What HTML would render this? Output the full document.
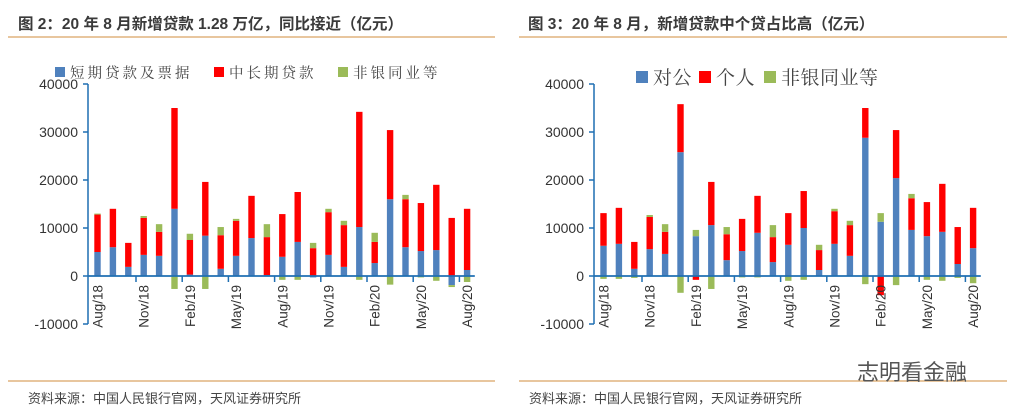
<!DOCTYPE html>
<html><head><meta charset="utf-8"><style>
body{margin:0;width:1013px;height:416px;background:#fff;overflow:hidden;font-family:"Liberation Sans","Noto Sans CJK SC",sans-serif;}
svg{position:absolute;left:0;top:0}
</style></head><body>
<svg id="s" width="1013" height="416">
<text x="18" y="29" font-size="15.5" font-weight="bold" fill="#3a3a3a">图 2：20 年 8 月新增贷款 1.28 万亿，同比接近（亿元）</text>
<text x="528" y="29" font-size="15.5" font-weight="bold" fill="#3a3a3a">图 3：20 年 8 月，新增贷款中个贷占比高（亿元）</text>
<line x1="8" y1="37" x2="495" y2="37" stroke="#d9a565" stroke-width="1.3"/>
<line x1="519" y1="37" x2="1007" y2="37" stroke="#d9a565" stroke-width="1.3"/>
<line x1="8" y1="381" x2="495" y2="381" stroke="#d9a565" stroke-width="1.3"/>
<line x1="519" y1="381" x2="1007" y2="381" stroke="#d9a565" stroke-width="1.3"/>
<text x="28" y="403" font-size="13" fill="#444">资料来源：中国人民银行官网，天风证券研究所</text>
<text x="529" y="403" font-size="13" fill="#444">资料来源：中国人民银行官网，天风证券研究所</text>
<text x="857" y="380" font-size="22" fill="#555">志明看金融</text>
<g id="c1"></g><g id="c2"></g>
</svg>
<script>
const months=["Aug/18","","","Nov/18","","","Feb/19","","","May/19","","","Aug/19","","","Nov/19","","","Feb/20","","","May/20","","","Aug/20"];
const yTicks=[-10000,0,10000,20000,30000,40000];
const c1Blue=[5000,6000,1900,4400,4200,14000,300,8400,1500,4200,7900,200,4000,7100,-300,4400,1900,10200,2700,16000,6000,5200,5400,-1900,1250];
const c1Red=[7800,8000,5000,7700,5000,21000,7200,11200,7000,7300,8800,7900,8900,10400,5800,8900,8700,24000,4400,14400,10000,10000,13600,12100,12750];
const c1Green=[200,0,0,400,1600,-2700,1300,-2700,1700,400,0,2700,-800,-800,1100,700,900,-800,1900,-1800,900,-300,-1000,-400,-1250];
const c2Blue=[6300,6700,1500,5600,4600,25800,8300,10600,3300,5200,9000,2900,6500,10000,1250,6700,4200,28800,11300,20400,9600,8300,9200,2500,5800];
const c2Red=[6800,7500,5600,6700,4600,10000,-800,9000,5400,6700,7700,5200,6600,7700,4150,6800,6400,6200,-4000,10000,6600,7100,10000,7700,8400];
const c2Green=[-600,-600,-400,400,1600,-3500,1300,-2700,1500,-300,-300,2500,-1000,-800,1100,500,900,-1700,1800,-1900,900,-800,-1000,-400,-1500];
const colors=["#4f81bd","#ff0000","#9bbb59"];
const NS="http://www.w3.org/2000/svg";
function mk(p,t,a){const e=document.createElementNS(NS,t);for(const k in a)e.setAttribute(k,a[k]);p.appendChild(e);return e;}
function draw(gid,ax,step,series,names,legY,legFs,legX,ls,sw,legStarts){
  const g=document.getElementById(gid);
  const y=v=>276-v*48/10000;
  const first=ax+9.5;
  const cx=i=>first+i*step;
  yTicks.forEach(t=>{
    const tx=mk(g,'text',{x:ax-10,y:y(t)+5,'font-size':14,'text-anchor':'end',fill:'#333'});
    tx.textContent=t;
    
    
    const tk=mk(g,'line',{x1:ax-5,x2:ax,y1:y(t),y2:y(t),stroke:'#1f6fb2','stroke-width':1.5});
    
    
  });
  const ya=mk(g,'line',{x1:ax,x2:ax,y1:y(40000),y2:y(-10000),stroke:'#1f6fb2','stroke-width':1.5});
  
  
  for(let i=0;i<months.length;i++){
    let pos=0,neg=0;
    series.forEach((s,k)=>{
      const v=s[i]; if(!v)return;
      let a,b;
      if(v>0){a=pos;b=pos+v;pos=b;}else{a=neg;b=neg+v;neg=b;}
      const r=mk(g,'rect',{x:cx(i)-3.2,width:6.4,y:Math.min(y(a),y(b)),height:Math.abs(y(a)-y(b)),fill:colors[k]});
      
      
    });
    if(i%3==0&&i>0){
      const tk=mk(g,'line',{x1:cx(i)-step/2,x2:cx(i)-step/2,y1:276,y2:282,stroke:'#1f6fb2','stroke-width':1.5});
      
      
    }
    if(months[i]){
      const t=mk(g,'text',{x:0,y:0,'font-size':13.5,'text-anchor':'end',fill:'#333',transform:`translate(${cx(i)+5},285) rotate(-90)`});
      t.textContent=months[i];
      
      
    }
  }
  const xa=mk(g,'line',{x1:ax,x2:cx(24)+step/2,y1:276,y2:276,stroke:'#1f6fb2','stroke-width':1.8});
  
  
  names.forEach((n,k)=>{
    const lx=legStarts[k];
    const r=mk(g,'rect',{x:lx,y:legY-sw-1,width:sw,height:sw,fill:colors[k]});
    
    
    const t=mk(g,'text',{x:lx+sw+5,y:legY,'font-size':legFs,fill:'#444','letter-spacing':ls,'font-family':'"Liberation Serif","Noto Serif CJK SC",serif'});
    t.textContent=n;
    
    
  });
}
draw('c1',88,15.4,[c1Blue,c1Red,c1Green],['短期贷款及票据','中长期贷款','非银同业等'],78,14.5,0,3,10,[55,214,338]);
draw('c2',594,15.4,[c2Blue,c2Red,c2Green],['对公','个人','非银同业等'],84,19,0,0.5,12,[636,699,764]);
</script>
</body></html>
